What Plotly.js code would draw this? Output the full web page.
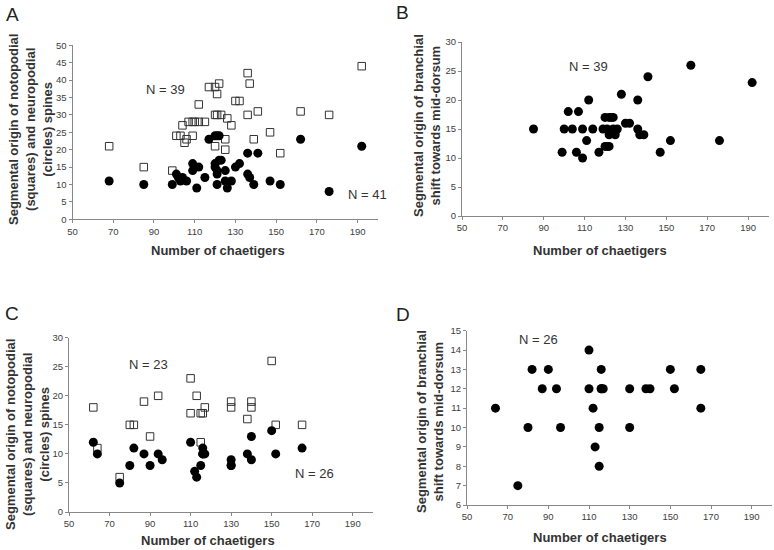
<!DOCTYPE html>
<html>
<head>
<meta charset="utf-8">
<script src="https://cdn.plot.ly/plotly-3.0.1.min.js"></script>
<style>html,body{margin:0;padding:0;background:#fff;}#chart{width:774px;height:550px;}</style>
</head>
<body>
<div id="chart"></div>
<script>
// Panel A: notopodial (squares) and neuropodial (circles) spines
const aSquareX = [68,85,99,101,103,104,105,106,109,107,109,110,112,115,112,117,120,121,122,120,121,123,120,125,125,126,128,130,132,136,137,136,141,139,147,152,162,176,192];
const aSquareY = [21,15,14,24,24,27,22,23,24,28,28,28,28,28,33,38,38,36,39,30,30,30,21,23,20,29,27,34,34,42,39,30,31,23,25,19,31,30,44];
const aCircleX = [68,85,99,101,102,104,103,106,109,110,109,112,111,115,117,120,121,122,121,122,123,120,120,121,121,125,125,126,128,130,132,136,141,136,137,139,147,152,162,176,192];
const aCircleY = [11,10,10,13,12,12,11,11,16,15,14,15,9,12,23,24,24,24,10,17,17,16,15,14,13,14,11,9,11,15,16,19,19,13,12,10,11,10,23,8,21];
// Panel B: branchial shift
const bX = [85,99,102,100,104,106,107,109,109,111,112,114,117,119,120,121,122,120,122,123,124,122,125,121,124,126,128,130,132,136,136,137,139,141,147,152,162,176,192];
const bY = [15,11,18,15,15,11,18,15,10,13,20,15,11,15,12,12,12,17,17,17,17,14,14,15,15,15,21,16,16,20,15,14,14,24,11,13,26,13,23];
// Panel C
const cSquareX = [62,64,75,80,82,87,90,94,110,110,113,115,116,117,115,130,130,138,140,140,150,152,165];
const cSquareY = [18,11,6,15,15,19,13,20,23,17,20,17,17,18,12,19,18,16,19,18,26,15,15];
const cCircleX = [62,64,75,80,82,87,90,94,96,110,112,113,115,116,116,116,117,130,130,130,138,140,140,150,152,165];
const cCircleY = [12,10,5,8,11,10,8,10,9,12,7,6,8,11,10,10,10,9,8,8,10,13,9,14,10,11];
// Panel D
const dX = [64,75,80,82,87,90,94,96,110,110,112,113,115,115,116,116,116,117,130,130,138,140,150,152,165,165];
const dY = [11,7,10,13,12,13,12,10,14,12,11,9,10,8,13,12,12,12,12,10,12,12,13,12,13,11];

const xTicks = [50,70,90,110,130,150,170,190];
const yTitleA = 'Segmental origin of notopodial<br>(squares) and neuropodial<br>(circles) spines';
const yTitleB = 'Segmental origin of branchial<br>shift towards mid-dorsum';
const xTitle = 'Number of chaetigers';

const W = 774, H = 550;
const px = v => v / W;
const py = v => 1 - v / H;

const sq = (x, y, xa, ya) => ({x, y, xaxis: xa, yaxis: ya, type: 'scatter', mode: 'markers',
  marker: {symbol: 'square-open', size: 7.5, color: '#333', line: {width: 1, color: '#333'}}, hoverinfo: 'x+y'});
const ci = (x, y, xa, ya) => ({x, y, xaxis: xa, yaxis: ya, type: 'scatter', mode: 'markers',
  marker: {symbol: 'circle', size: 9, color: '#000'}, hoverinfo: 'x+y'});

const data = [
  sq(aSquareX, aSquareY, 'x', 'y'), ci(aCircleX, aCircleY, 'x', 'y'),
  ci(bX, bY, 'x2', 'y2'),
  sq(cSquareX, cSquareY, 'x3', 'y3'), ci(cCircleX, cCircleY, 'x3', 'y3'),
  ci(dX, dY, 'x4', 'y4')
];

const tickFont = {family: 'Liberation Sans, Arial, sans-serif', size: 9.5, color: '#404040'};
const xax = (dom, anchor) => ({domain: dom, anchor, range: [50, 200], tickvals: xTicks, ticks: 'outside', ticklen: 3,
  tickcolor: '#888', showline: true, linecolor: '#888', linewidth: 1, showgrid: false, zeroline: false,
  tickfont: tickFont, fixedrange: true});
const yax = (dom, anchor, range, dtick) => ({domain: dom, anchor, range, dtick, ticks: 'outside', ticklen: 3,
  tickcolor: '#888', showline: true, linecolor: '#888', linewidth: 1, showgrid: false, zeroline: false,
  tickfont: tickFont, fixedrange: true});

const titleFont = {family: 'Liberation Sans, Arial, sans-serif', size: 13, color: '#333'};
const nFont = {family: 'Liberation Sans, Arial, sans-serif', size: 13, color: '#333'};
const letterFont = {family: 'Liberation Sans, Arial, sans-serif', size: 19, color: '#222'};

const ann = (text, x, y, font, extra) => Object.assign({text, x: px(x), y: py(y), xref: 'paper', yref: 'paper',
  xanchor: 'center', yanchor: 'middle', showarrow: false, font}, extra || {});
const bold = s => '<b>' + s.split('<br>').join('</b><br><b>') + '</b>';

const layout = {
  width: W, height: H, margin: {l: 0, r: 0, t: 0, b: 0}, showlegend: false,
  paper_bgcolor: '#fff', plot_bgcolor: '#fff',
  xaxis: xax([px(72.5), px(378)], 'y'),
  yaxis: yax([py(219.3), py(45.3)], 'x', [0, 50], 5),
  xaxis2: xax([px(462), px(768.5)], 'y2'),
  yaxis2: yax([py(216), py(42)], 'x2', [0, 30], 5),
  xaxis3: xax([px(69), px(373)], 'y3'),
  yaxis3: yax([py(512), py(337.7)], 'x3', [0, 30], 5),
  xaxis4: xax([px(467), px(772)], 'y4'),
  yaxis4: yax([py(505), py(330.7)], 'x4', [6, 15], 1),
  annotations: [
    ann('A', 12.5, 14, letterFont), ann('B', 402, 12, letterFont),
    ann('C', 12.5, 313, letterFont), ann('D', 402.5, 314, letterFont),
    ann(bold(yTitleA), 31, 130, titleFont, {textangle: -90}),
    ann(bold(yTitleB), 427, 126, titleFont, {textangle: -90}),
    ann(bold(yTitleA), 27, 435, titleFont, {textangle: -90}),
    ann(bold(yTitleB), 430, 422, titleFont, {textangle: -90}),
    ann(bold(xTitle), 218, 251, titleFont), ann(bold(xTitle), 600, 250, titleFont),
    ann(bold(xTitle), 208, 540, titleFont), ann(bold(xTitle), 600, 537, titleFont),
    ann('N = 39', 165, 90, nFont), ann('N = 41', 367, 195, nFont),
    ann('N = 39', 588, 66, nFont),
    ann('N = 23', 148, 364, nFont), ann('N = 26', 314, 473, nFont),
    ann('N = 26', 538, 339, nFont)
  ]
};

Plotly.newPlot('chart', data, layout, {staticPlot: true, displayModeBar: false});
</script>
</body>
</html>
